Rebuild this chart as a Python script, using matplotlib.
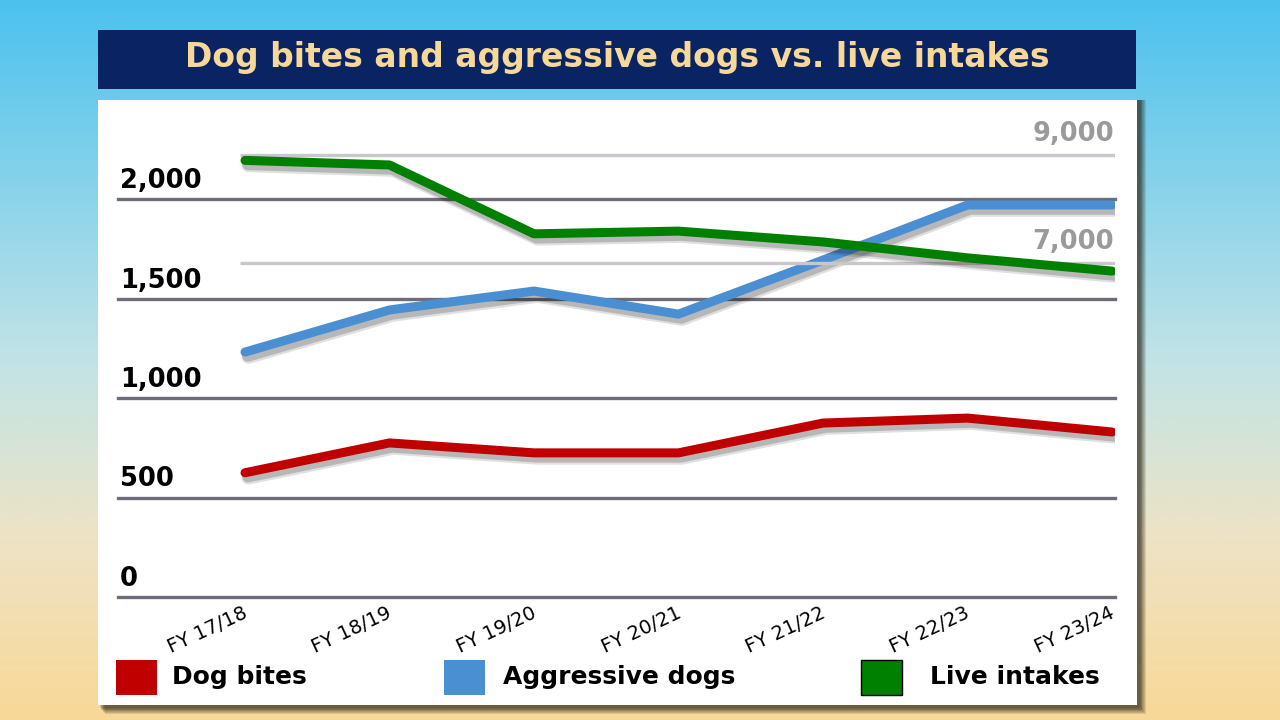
import matplotlib
matplotlib.use("Agg")
import matplotlib.pyplot as plt
import matplotlib.patheffects as pe
from matplotlib.patches import Rectangle
import numpy as np
from matplotlib.colors import LinearSegmentedColormap

# ---- data ----
categories = ["FY 17/18", "FY 18/19", "FY 19/20", "FY 20/21", "FY 21/22", "FY 22/23", "FY 23/24"]
dog_bites = [625, 775, 725, 725, 875, 900, 830]
aggressive_dogs = [1232, 1444, 1539, 1423, 1695, 1972, 1972]
live_intakes = [8900, 8815, 7540, 7590, 7390, 7095, 6850]
left_ticks = [0, 500, 1000, 1500, 2000]
left_labels = ["0", "500", "1,000", "1,500", "2,000"]
right_ticks = [7000, 9000]
right_labels = ["7,000", "9,000"]
title = "Dog bites and aggressive dogs vs. live intakes"
legend_names = ["Dog bites", "Aggressive dogs", "Live intakes"]

RED = "#C00000"
BLUE = "#4A8FD2"
GREEN = "#008000"

W, H = 1280, 720
fig = plt.figure(figsize=(12.8, 7.2), dpi=100)

def fx(px):
    return px / W

def fy(py):
    return 1 - py / H

# background gradient
bg = fig.add_axes([0, 0, 1, 1], zorder=-10)
cmap = LinearSegmentedColormap.from_list(
    "bg", [(0, "#4CC1EE"), (0.5, "#C2E3E6"), (0.75, "#EEE3C6"), (1.0, "#F8D898")])
grad = np.linspace(0, 1, 256).reshape(-1, 1)
bg.imshow(grad, aspect="auto", cmap=cmap, extent=[0, 1, 0, 1], origin="upper")
bg.set_xlim(0, 1)
bg.set_ylim(0, 1)
bg.axis("off")

# title box
bg.add_patch(Rectangle((fx(98), fy(89)), fx(1136) - fx(98), fy(30) - fy(89),
                       facecolor="#0A2362", edgecolor="none", zorder=2))
bg.text((fx(98) + fx(1136)) / 2, fy(57), title, color="#F8D898",
        fontsize=23.8, fontweight="bold", ha="center", va="center", zorder=3,
        family="DejaVu Sans")

# panel shadow (soft)
for i in range(8):
    off = 13 - i * 1.3
    bg.add_patch(Rectangle((fx(98 + off * 0.5), fy(705 + off * 0.7)),
                           fx(1137 + off * 0.7) - fx(98 + off * 0.5),
                           fy(100) - fy(705 + off * 0.7), facecolor="#2a2414",
                           alpha=0.13, edgecolor="none", zorder=1))
# white panel
bg.add_patch(Rectangle((fx(98), fy(705)), fx(1137) - fx(98), fy(100) - fy(705),
                       facecolor="white", edgecolor="none", zorder=2))

# main axes
x_left_px, x_right_px = 118, 1115
idx0_px, idx6_px = 245, 1112
step = (idx6_px - idx0_px) / 6
xmin = (x_left_px - idx0_px) / step
xmax = (x_right_px - idx0_px) / step

ax = fig.add_axes([fx(x_left_px), fy(597), fx(x_right_px) - fx(x_left_px), fy(100) - fy(597)])
ax.set_facecolor("none")
ax.set_xlim(xmin, xmax)
ax.set_ylim(0, 2500)
for s in ax.spines.values():
    s.set_visible(False)
ax.set_yticks([])
ax.set_xticks([])

ax2 = ax.twinx()
ax2.set_ylim(815, 10018)
ax2.set_xlim(xmin, xmax)
for s in ax2.spines.values():
    s.set_visible(False)
ax2.set_yticks([])

# left gridlines and labels
for t, lab in zip(left_ticks, left_labels):
    ax.axhline(t, color="#6D6C78", lw=2.4, zorder=1, clip_on=False)
    ax.text(0.002, t + 26, lab, transform=ax.get_yaxis_transform(), ha="left", va="bottom",
            fontsize=18.5, fontweight="bold", color="black")

# right gridlines and labels
x_r_start = (240 - idx0_px) / step
for t, lab in zip(right_ticks, right_labels):
    ax2.plot([x_r_start, xmax], [t, t], color="#C8C8CC", lw=2.4, zorder=1,
             solid_capstyle="butt")
    ax2.text(xmax - 0.005, t + 140, lab, ha="right", va="bottom",
             fontsize=18.5, fontweight="bold", color="#9A9A9A")

x = np.arange(len(categories))
shadow = [pe.SimpleLineShadow(offset=(2.5, -3.5), shadow_color="black", alpha=0.12, linewidth=10),
          pe.SimpleLineShadow(offset=(2, -3), shadow_color="black", alpha=0.18, linewidth=8),
          pe.Normal()]
for series, col, a in [(dog_bites, RED, ax), (aggressive_dogs, BLUE, ax), (live_intakes, GREEN, ax2)]:
    a.plot(x, series, color=col, lw=6.5, solid_capstyle="round", solid_joinstyle="round",
           path_effects=shadow, zorder=5)

# x labels
for i, c in enumerate(categories):
    ax.annotate(c, xy=(i, 0), xycoords=("data", "data"), xytext=(-2, -5),
                textcoords="offset points", ha="right", va="top", rotation=25,
                rotation_mode="anchor", fontsize=14, color="black")

# legend
leg = [(116, RED, 172, "none"), (444, BLUE, 503, "none"), (861, GREEN, 930, "black")]
for (sx, col, tx, ec), name in zip(leg, legend_names):
    bg.add_patch(Rectangle((fx(sx), fy(695)), fx(41), fy(660) - fy(695),
                           facecolor=col, edgecolor=ec, lw=1, zorder=3))
    bg.text(fx(tx), fy(677), name, fontsize=18, fontweight="bold", ha="left", va="center",
            color="black", zorder=3)

fig.savefig("out.png", dpi=100)
